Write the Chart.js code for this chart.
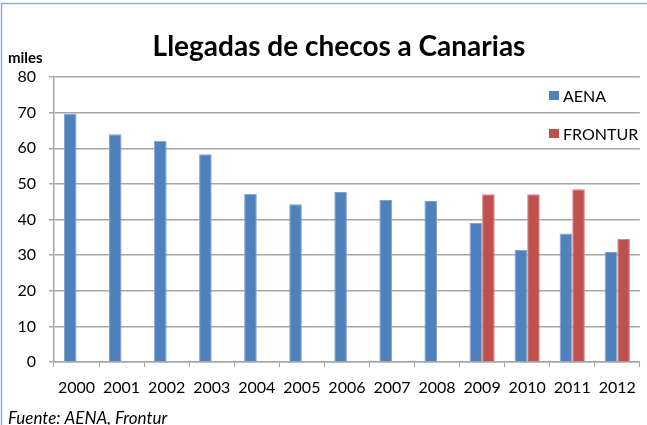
<!DOCTYPE html>
<html>
<head>
<meta charset="utf-8">
<script src="https://cdn.jsdelivr.net/npm/chart.js@4"></script>
<style>
  body { margin: 0; background: #fff; }
  #wrap { width: 647px; height: 425px; }
</style>
</head>
<body>
<div id="wrap"><canvas id="llegadas" width="647" height="425"></canvas></div>
<script>
const years = ["2000", "2001", "2002", "2003", "2004", "2005", "2006", "2007", "2008", "2009", "2010", "2011", "2012"];
const aena = [69.7, 63.9, 62.1, 58.3, 47.2, 44.3, 47.7, 45.5, 45.2, 39.0, 31.5, 36.1, 30.9];
const frontur = [null, null, null, null, null, null, null, null, null, 47.1, 47.1, 48.5, 34.5];
const seriesNames = ["AENA", "FRONTUR"];
const yTicks = [0, 10, 20, 30, 40, 50, 60, 70, 80];

const blue = "#4F81BD";
const red = "#C0504D";
const gridGray = "#A6A6A6";
const fontName = "Lato, 'Open Sans', sans-serif";

// marco, titulo, "miles", leyenda y fuente
const extras = {
  id: "extras",
  beforeDraw(chart) {
    const c = chart.ctx;
    c.save();
    c.fillStyle = "#fff";
    c.fillRect(0, 0, chart.width, chart.height);
    c.strokeStyle = "#8DB0DD";
    c.lineWidth = 1.5;
    c.strokeRect(1.5, 3.5, chart.width + 10, chart.height + 10);
    c.restore();
  },
  afterDraw(chart) {
    const c = chart.ctx;
    c.save();
    c.fillStyle = "#000";
    c.textBaseline = "middle";

    c.font = "bold 28px " + fontName;
    c.textAlign = "center";
    c.fillText("Llegadas de checos a Canarias", 339, 47);

    c.font = "bold 15px " + fontName;
    c.textAlign = "left";
    c.fillText("miles", 8, 58);

    c.font = "italic 17px " + fontName;
    c.fillText("Fuente: AENA, Frontur", 8, 419);

    // leyenda
    const colors = [blue, red];
    const rows = [96, 134];
    c.font = "16px " + fontName;
    for (let i = 0; i < seriesNames.length; i++) {
      c.fillStyle = colors[i];
      c.fillRect(549, rows[i] - 5, 10, 9);
      c.fillStyle = "#000";
      c.fillText(seriesNames[i], 563, rows[i] + 1);
    }
    c.restore();
  }
};

new Chart(document.getElementById("llegadas"), {
  type: "bar",
  data: {
    labels: years,
    datasets: [
      {
        label: seriesNames[0],
        data: aena,
        backgroundColor: blue,
        borderColor: "#7EA3D3",
        borderWidth: 1,
        categoryPercentage: 0.56,
        barPercentage: 1
      },
      {
        label: seriesNames[1],
        data: frontur,
        backgroundColor: red,
        borderColor: "#D58886",
        borderWidth: 1,
        categoryPercentage: 0.56,
        barPercentage: 1
      }
    ]
  },
  options: {
    responsive: false,
    animation: false,
    devicePixelRatio: 1,
    layout: { padding: { left: 0, top: 77, right: 4, bottom: 0 } },
    plugins: {
      legend: { display: false },
      title: { display: false },
      tooltip: { enabled: false }
    },
    scales: {
      x: {
        afterFit(scale) { scale.height = 63; },
        grid: { drawOnChartArea: false, drawTicks: true, tickLength: 5, color: gridGray },
        border: { display: true, color: gridGray, width: 1.5 },
        ticks: { color: "#000", padding: 11, maxRotation: 0, font: { family: fontName, size: 16 } }
      },
      y: {
        min: 0,
        max: 80,
        afterFit(scale) { scale.width = 54; },
        afterBuildTicks(scale) { scale.ticks = yTicks.map(v => ({ value: v })); },
        grid: { color: gridGray, lineWidth: 1.5, tickLength: 5 },
        border: { display: true, color: gridGray, width: 1.5 },
        ticks: { color: "#000", padding: 13, font: { family: fontName, size: 16 } }
      }
    }
  },
  plugins: [extras]
});
</script>
</body>
</html>
